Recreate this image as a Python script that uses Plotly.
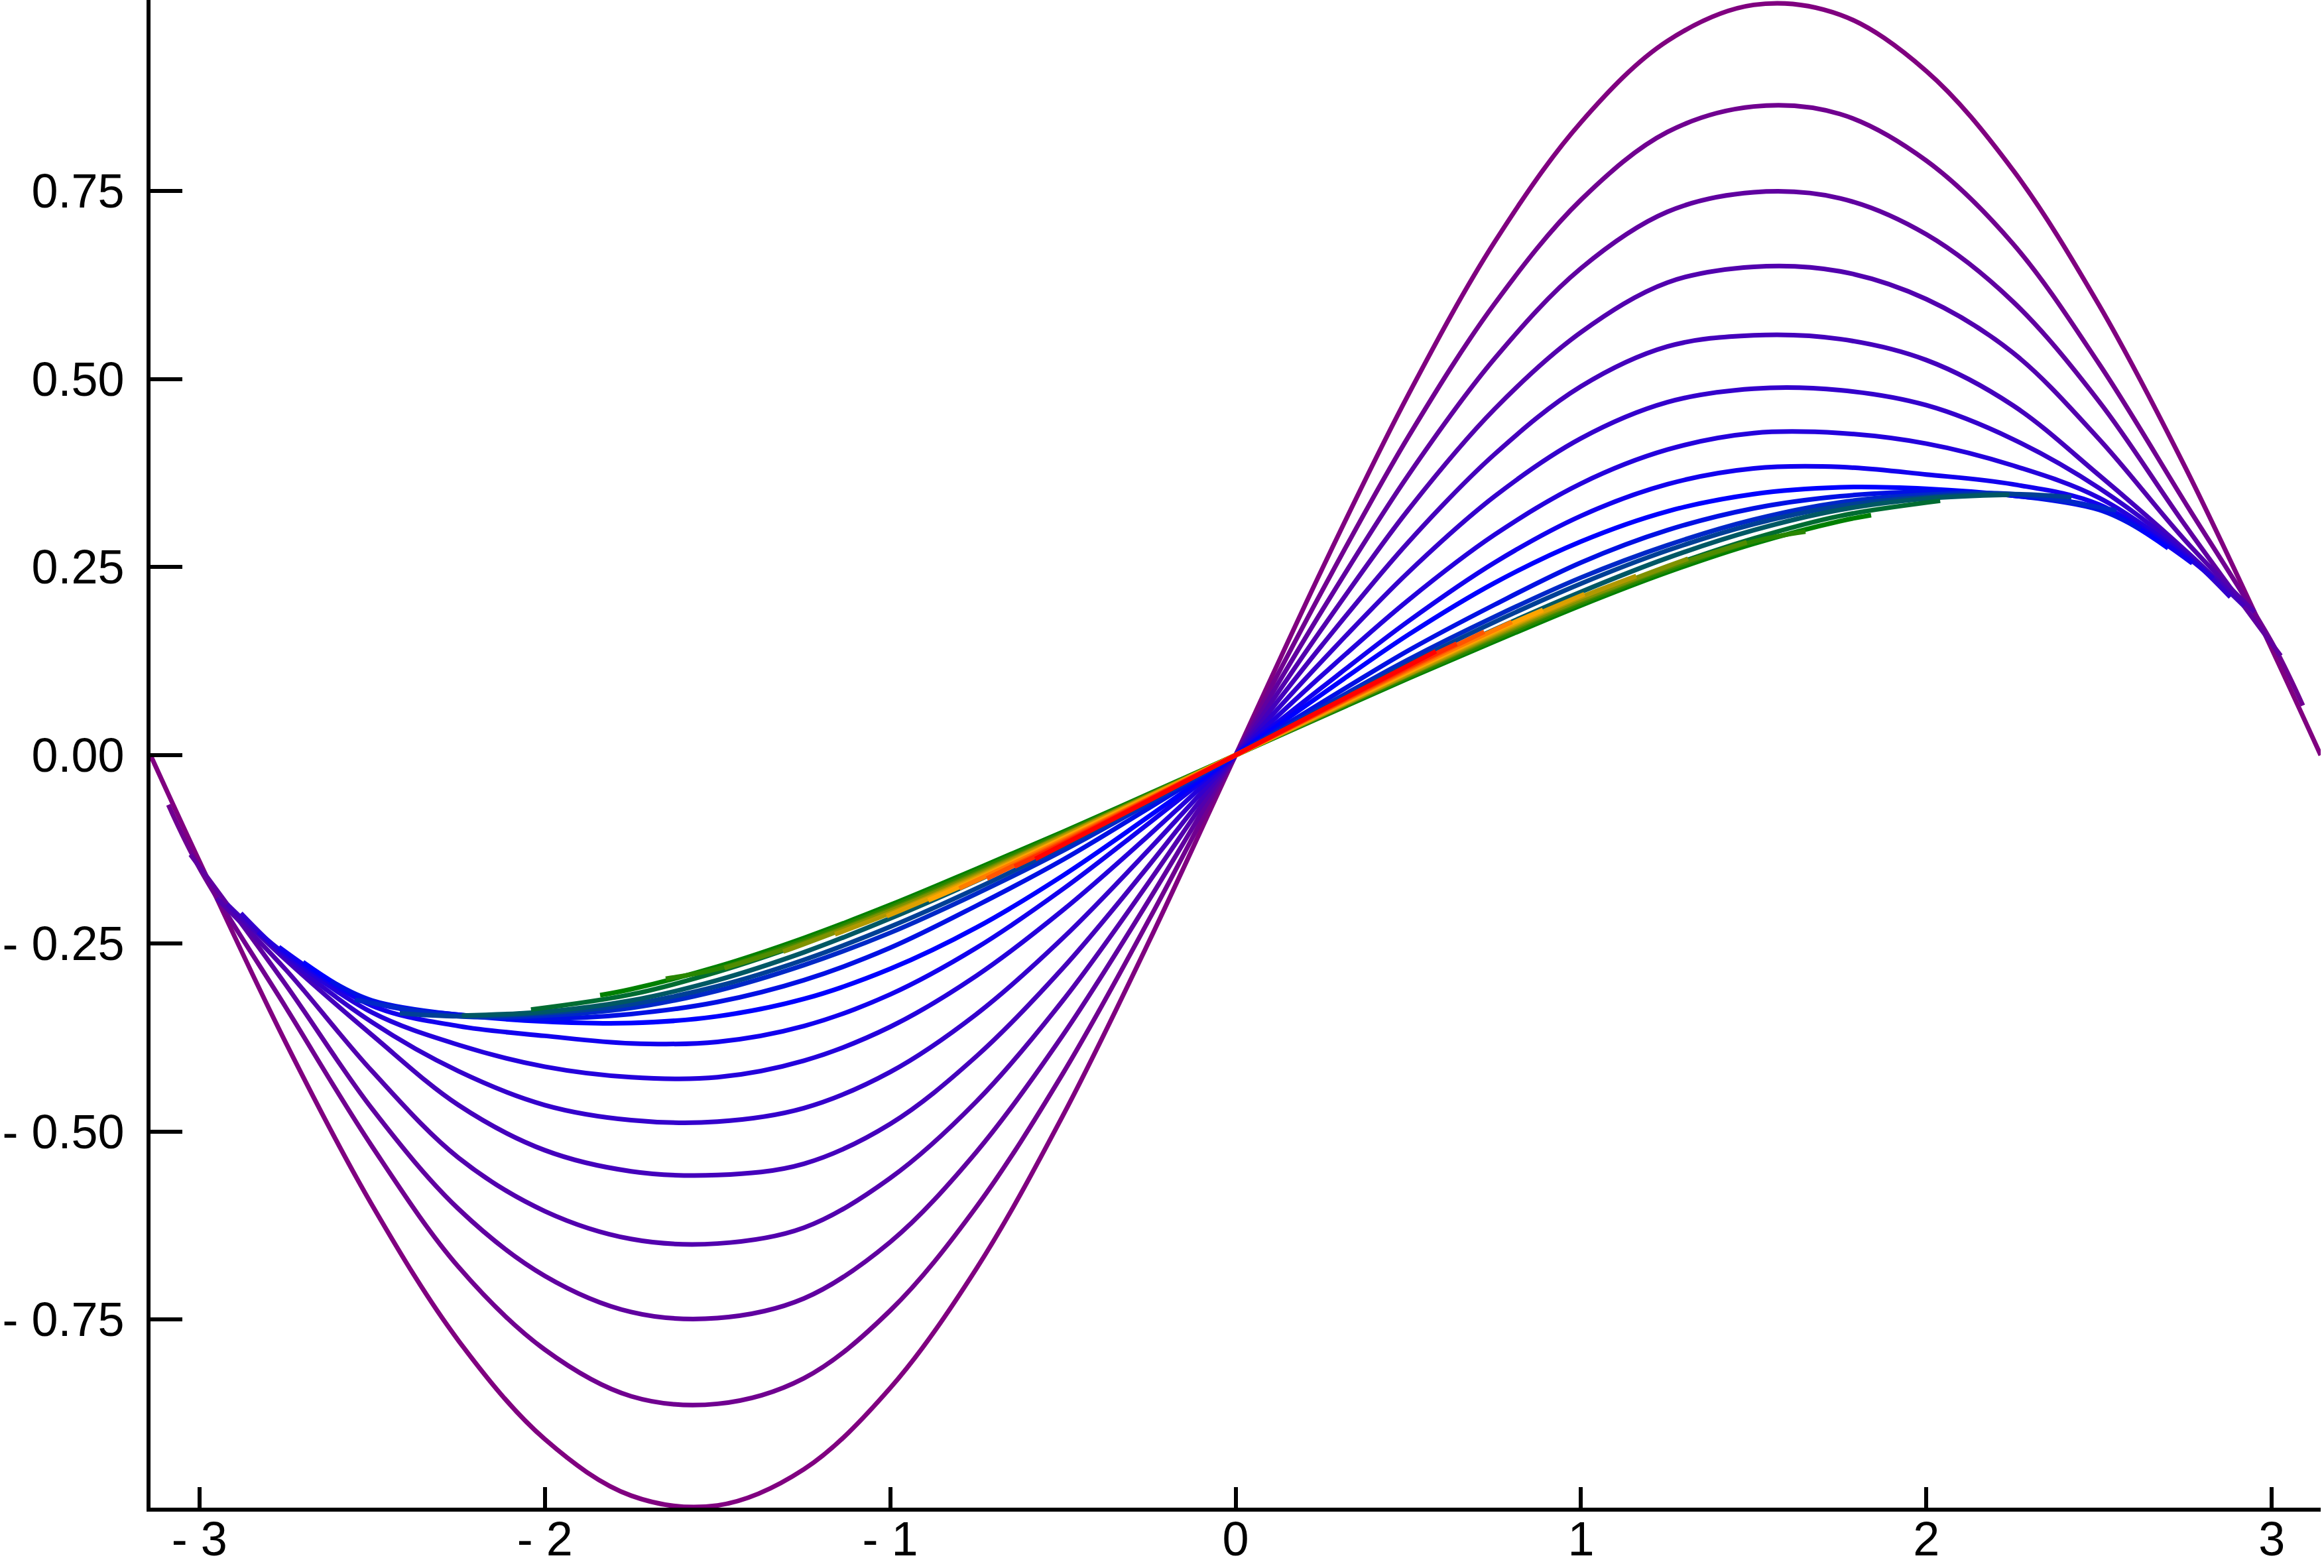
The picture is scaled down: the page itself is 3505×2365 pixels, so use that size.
import plotly.graph_objects as go

# ---------------- data ----------------
# common sampling positions along x
GRID = [-3.0, -2.75, -2.5, -2.25, -2.0, -1.75, -1.5, -1.25, -1.0, -0.75, -0.5, -0.25,
        0.0, 0.25, 0.5, 0.75, 1.0, 1.25, 1.5, 1.75, 2.0, 2.25, 2.5, 2.75, 3.0]

# outer (distinct) curves: x-extent (curve runs from -end to +end),
# last regular sample before the end, and y values
END_C = [3.1416, 3.09, 3.026, 2.95, 2.92, 2.88, 2.83, 2.77, 2.70, 2.62, 2.55]
LAST_C = [3.0, 3.0, 2.75, 2.75, 2.75, 2.75, 2.75, 2.5, 2.5, 2.5, 2.25]

Y_C0 = [0, -.141, -.382, -.598, -.778, -.909, -.984, -.997, -.949, -.841, -.682, -.479, -.247, 0,
        .247, .479, .682, .841, .949, .997, .984, .909, .778, .598, .382, .141, 0]
Y_C1 = [-.066, -.15, -.335, -.52, -.68, -.79, -.852, -.862, -.828, -.738, -.6, -.423, -.218, 0,
        .218, .423, .6, .738, .828, .862, .852, .79, .68, .52, .335, .15, .066]
Y_C2 = [-.132, -.305, -.47, -.603, -.692, -.74, -.748, -.722, -.647, -.527, -.372, -.192, 0,
        .192, .372, .527, .647, .722, .748, .74, .692, .603, .47, .305, .132]
Y_C3 = [-.19, -.285, -.42, -.535, -.606, -.643, -.649, -.628, -.562, -.46, -.326, -.168, 0,
        .168, .326, .46, .562, .628, .649, .643, .606, .535, .42, .285, .19]
Y_C4 = [-.198, -.272, -.372, -.465, -.525, -.553, -.558, -.543, -.49, -.4, -.283, -.146, 0,
        .146, .283, .4, .49, .543, .558, .553, .525, .465, .372, .272, .198]
Y_C5 = [-.21, -.268, -.355, -.42, -.465, -.485, -.487, -.469, -.421, -.344, -.243, -.125, 0,
        .125, .243, .344, .421, .469, .487, .485, .465, .42, .355, .268, .21]
Y_C6 = [-.235, -.265, -.342, -.385, -.414, -.428, -.428, -.406, -.361, -.293, -.206, -.106, 0,
        .106, .206, .293, .361, .406, .428, .428, .414, .385, .342, .265, .235]
Y_C7 = [-.255, -.333, -.36, -.373, -.383, -.381, -.36, -.318, -.256, -.178, -.09, 0,
        .09, .178, .256, .318, .36, .381, .383, .373, .36, .333, .255]
Y_C8 = [-.275, -.328, -.345, -.354, -.356, -.347, -.324, -.284, -.229, -.16, -.081, 0,
        .081, .16, .229, .284, .324, .347, .356, .354, .345, .328, .275]
Y_C9 = [-.30, -.326, -.345, -.35, -.344, -.328, -.299, -.256, -.2, -.139, -.07, 0,
        .07, .139, .2, .256, .299, .328, .344, .35, .345, .326, .30]
Y_C10 = [-.325, -.347, -.346, -.336, -.313, -.279, -.236, -.184, -.127, -.064, 0,
         .064, .127, .184, .236, .279, .313, .336, .346, .347, .325]

# converged band of curves (they stop at progressively shorter extents)
END_B = [2.42, 2.24, 2.04, 1.84, 1.65, 1.48, 1.31, 1.16, 1.01, 0.89, 0.80, 0.72, 0.64, 0.58]
LAST_B = [2.25, 2.0, 1.75, 1.75, 1.5, 1.25, 1.25, 1.0, 0.75, 0.75, 0.5, 0.5, 0.5, 0.5]

Y_B0 = [-.343, -.347, -.343, -.331, -.307, -.272, -.228, -.177, -.121, -.061, 0,
        .061, .121, .177, .228, .272, .307, .331, .343, .347, .343]
Y_B1 = [-.346, -.341, -.326, -.299, -.262, -.217, -.167, -.113, -.057, 0,
        .057, .113, .167, .217, .262, .299, .326, .341, .346]
Y_B2 = [-.338, -.318, -.288, -.25, -.206, -.157, -.106, -.053, 0,
        .053, .106, .157, .206, .25, .288, .318, .338]
Y_B3 = [-.319, -.311, -.281, -.243, -.199, -.151, -.102, -.051, 0,
        .051, .102, .151, .199, .243, .281, .311, .319]
Y_B4 = [-.297, -.284, -.246, -.202, -.154, -.104, -.052, 0, .052, .104, .154, .202, .246, .284, .297]
Y_B5 = [-.283, -.249, -.205, -.157, -.106, -.053, 0, .053, .106, .157, .205, .249, .283]
Y_B6 = [-.261, -.251, -.207, -.159, -.107, -.054, 0, .054, .107, .159, .207, .251, .261]
Y_B7 = [-.238, -.21, -.161, -.108, -.054, 0, .054, .108, .161, .21, .238]
Y_B8 = [-.214, -.163, -.11, -.055, 0, .055, .11, .163, .214]
Y_B9 = [-.193, -.165, -.111, -.056, 0, .056, .111, .165, .193]
Y_B10 = [-.177, -.113, -.057, 0, .057, .113, .177]
Y_B11 = [-.164, -.115, -.058, 0, .058, .115, .164]
Y_B12 = [-.148, -.117, -.059, 0, .059, .117, .148]
Y_B13 = [-.138, -.119, -.06, 0, .06, .119, .138]

X_TICKS = [-3, -2, -1, 0, 1, 2, 3]
X_TICK_TEXT = ["- 3", "- 2", "- 1", "0", "1", "2", "3"]
Y_TICKS = [-0.75, -0.5, -0.25, 0.0, 0.25, 0.5, 0.75]
Y_TICK_TEXT = ["- 0.75", "- 0.50", "- 0.25", "0.00", "0.25", "0.50", "0.75"]

# ---------------- styles ----------------
COLORS_C = ["#800080", "#700090", "#6000a0", "#5200ae", "#4400bc", "#3400cc",
            "#2400dc", "#1200ee", "#0000ff", "#0010e4", "#0028c8"]
COLORS_B = ["#004096", "#005864", "#006c32", "#008000", "#288600", "#508c00",
            "#809200", "#b09800", "#dca000", "#ffa500", "#ff7d00", "#ff5500",
            "#ff2d00", "#ff0000"]
LINE_W = 7


def span(end, last):
    """sample positions of a curve that runs from -end to +end"""
    return [-end] + [g for g in GRID if abs(g) <= last + 1e-9] + [end]


fig = go.Figure()
curves = [Y_C0, Y_C1, Y_C2, Y_C3, Y_C4, Y_C5, Y_C6, Y_C7, Y_C8, Y_C9, Y_C10]
band = [Y_B0, Y_B1, Y_B2, Y_B3, Y_B4, Y_B5, Y_B6, Y_B7, Y_B8, Y_B9, Y_B10, Y_B11, Y_B12, Y_B13]
series = list(zip(curves, END_C, LAST_C, COLORS_C)) + list(zip(band, END_B, LAST_B, COLORS_B))
for ys, e, last, c in series:
    xs = span(e, last)
    assert len(xs) == len(ys), (e, len(xs), len(ys))
    fig.add_trace(go.Scatter(x=xs, y=ys, mode="lines",
                             line=dict(color=c, width=LINE_W, shape="spline", smoothing=1.0),
                             hoverinfo="skip", showlegend=False))

FAMILY = "Liberation Sans, Arial, Helvetica, sans-serif"
YFONT = dict(family=FAMILY, size=72, color="black")
XFONT = dict(family=FAMILY, size=72, color="black")

fig.update_layout(
    width=3505, height=2365,
    margin=dict(l=227, r=5, t=0, b=91, pad=0),
    paper_bgcolor="white", plot_bgcolor="white",
    font=YFONT,
    xaxis=dict(range=[-3.14159, 3.14159], showgrid=False, zeroline=False, automargin=False,
               showline=True, linecolor="black", linewidth=6,
               ticks="inside", ticklen=31, tickwidth=6, tickcolor="black",
               tickvals=X_TICKS, ticktext=X_TICK_TEXT, tickfont=XFONT,
               ticklabelstandoff=-20),
    yaxis=dict(range=[-1.0, 1.00353], showgrid=False, zeroline=False, automargin=False,
               showline=True, linecolor="black", linewidth=6,
               ticks="inside", ticklen=48, tickwidth=6, tickcolor="black",
               tickvals=Y_TICKS, ticktext=Y_TICK_TEXT, tickfont=YFONT,
               ticklabelstandoff=19),
)

fig.write_html("out.html", config={"displayModeBar": False})
